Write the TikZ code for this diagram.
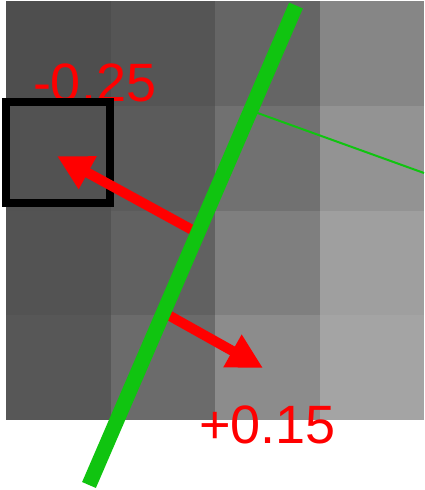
\documentclass[tikz,border=0pt]{standalone}
\usepackage{fontspec}
\setmainfont{Liberation Sans}
\usetikzlibrary{arrows.meta}
\definecolor{edgegreen}{RGB}{16,196,16}
\tikzset{
  gradarrow/.style={draw=red, line width=10pt, -{Triangle[length=35pt,width=35pt]}},
  gradlabel/.style={text=red, font=\fontsize{54}{62}\selectfont, inner sep=0pt, outer sep=0pt, anchor=base west}
}

\begin{document}
\begin{tikzpicture}[x=1pt,y=-1pt]
\useasboundingbox (0,0) rectangle (424,490);

% Pixel cells
\foreach \row [count=\ny from 0] in {{78,85,101,134},{82,91,113,147},{83,97,127,159},{87,107,140,164}} {
  \foreach \g [count=\nx from 0] in \row {
    \fill[fill={rgb,255:red,\g;green,\g;blue,\g}] (6+104.5*\nx,1+104.75*\ny) rectangle ++(104.5,104.75);
  }
}

% Labels
\node[gradlabel] (neg) at (33,101.5) {-0.25};
\node[gradlabel] (pos) at (199,443.5) {+0.15};

% Cell under test
\draw[line width=8pt] (6,102) rectangle (110,203);

% Edge and points on it
\coordinate (e1) at (89,485);
\coordinate (e2) at (296,5.5);
\path (e1) -- (e2) coordinate[pos=0.781] (n0) coordinate[pos=0.5256] (t1) coordinate[pos=0.36] (t2);
\coordinate (n1) at (424,173);
\coordinate (h1) at (57,156);
\coordinate (h2) at (263,368);

% Normal and gradient arrows
\draw[edgegreen, line width=2pt] (n0) -- (n1);
\draw[gradarrow] (t1) -- (h1);
\draw[gradarrow] (t2) -- (h2);
\draw[edgegreen, line width=15pt] (e1) -- (e2);
\end{tikzpicture}
\end{document}
